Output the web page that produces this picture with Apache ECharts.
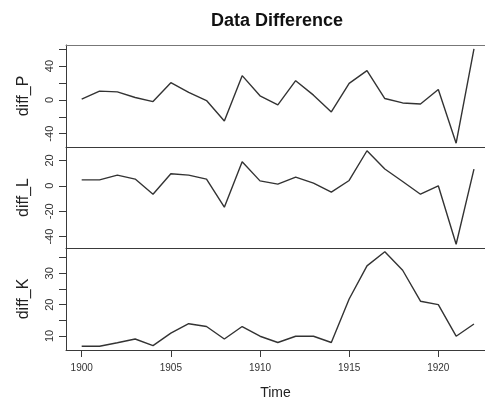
<!DOCTYPE html>
<html>
<head>
<meta charset="utf-8">
<script src="https://cdn.jsdelivr.net/npm/echarts@6/dist/echarts.min.js"></script>
<style>html,body{margin:0;padding:0;background:#fff;}#c{width:485px;height:397px;}</style>
</head>
<body>
<div id="c"></div>
<script>
const years = [1900,1901,1902,1903,1904,1905,1906,1907,1908,1909,1910,1911,1912,1913,1914,1915,1916,1917,1918,1919,1920,1921,1922];
const diffP = [1,10.4,9.5,2.8,-2,20.3,8.8,-0.8,-25,28.7,4.8,-6,22.7,5.6,-14.3,19.5,34.6,1.6,-3.6,-4.8,12.3,-51.3,60.5];
const diffL = [4.7,4.7,8.4,5.3,-6.6,9.5,8.4,5.3,-16.8,18.9,3.9,1.3,6.8,2.1,-5,4.2,27.6,13.2,3.4,-6.6,0,-46,13.2];
const diffK = [6.7,6.7,7.8,9,6.9,10.9,13.9,13,9,13,9.9,7.9,9.9,9.9,7.9,21.8,32.4,36.9,31,21.1,20,9.9,13.8];
const seriesNames = ['diff_P','diff_L','diff_K'];
const ticksP = [-40,-20,0,20,40,60];
const labelsP = [-40,0,40];
const ticksL = [-40,-20,0,20];
const labelsL = [-40,-20,0,20];
const ticksK = [10,15,20,25,30,35];
const labelsK = [10,20,30];
const xTicks = [1900,1905,1910,1915,1920];
const title = 'Data Difference';
const xName = 'Time';

function padRange(arr){
  const mn = Math.min.apply(null, arr), mx = Math.max.apply(null, arr);
  const p = (mx - mn) * 0.04;
  return [mn - p, mx + p];
}
// the reference picture is cropped on the right: only ~99% of the padded x range is visible
const xr = padRange(years);
const xViewMax = xr[0] + (xr[1] - xr[0]) * 0.989;
const FONT = '"Liberation Sans", Arial, sans-serif';
const LC = '#3a3a3a';
const gridsPos = [{top:45,height:102},{top:147,height:101},{top:248,height:102}];
const datas = [diffP, diffL, diffK];
const ticks = [ticksP, ticksL, ticksK];
const labels = [labelsP, labelsL, labelsK];

const xAxes = gridsPos.map((g,i) => ({
  type:'value', gridIndex:i, min:xr[0], max:xViewMax, position:'bottom',
  splitLine:{show:false},
  axisLine:{show:true, onZero:false, lineStyle:{color:LC,width:1}},
  axisTick:{show:i===2, length:7, lineStyle:{color:LC}, customValues:xTicks},
  axisLabel:{show:i===2, customValues:xTicks, formatter: v => String(Math.round(v)), fontFamily:FONT, fontSize:10, color:'#333', margin:13},
  name: i===2 ? xName : '', nameLocation:'middle', nameGap:36,
  nameTextStyle:{fontFamily:FONT,fontSize:14,color:'#222'}
}));
xAxes.push({
  type:'value', gridIndex:0, min:xr[0], max:xViewMax, position:'top',
  splitLine:{show:false}, axisTick:{show:false}, axisLabel:{show:false},
  axisLine:{show:true, onZero:false, lineStyle:{color:'#777',width:1}}
});

const option = {
  animation:false,
  backgroundColor:'#fff',
  title:{text:title,left:272,textAlign:'center',top:7,textStyle:{fontFamily:FONT,fontSize:18,fontWeight:'bold',color:'#111'}},
  grid: gridsPos.map(g => ({left:66,right:0,top:g.top,height:g.height,show:false,containLabel:false,outerBoundsMode:'none'})),
  xAxis: xAxes,
  yAxis: datas.map((d,i) => {
    const r = padRange(d);
    return {
      type:'value', gridIndex:i, min:r[0], max:r[1],
      splitLine:{show:false},
      axisLine:{show:true, onZero:false, lineStyle:{color:LC,width:1}},
      axisTick:{show:true,length:7,lineStyle:{color:LC},customValues:ticks[i]},
      axisLabel:{customValues:labels[i], rotate:90, fontFamily:FONT, fontSize:11, color:'#333', margin:11},
      name:seriesNames[i], nameLocation:'middle', nameRotate:90, nameGap:34,
      nameTextStyle:{fontFamily:FONT,fontSize:16,color:'#222'}
    };
  }),
  series: datas.map((d,i) => ({
    type:'line', xAxisIndex:i, yAxisIndex:i, showSymbol:false,
    data: years.map((y,j) => [y, d[j]]),
    lineStyle:{color:'#333',width:1.4}
  }))
};
echarts.init(document.getElementById('c'),null,{renderer:'canvas'}).setOption(option);
</script>
</body>
</html>
